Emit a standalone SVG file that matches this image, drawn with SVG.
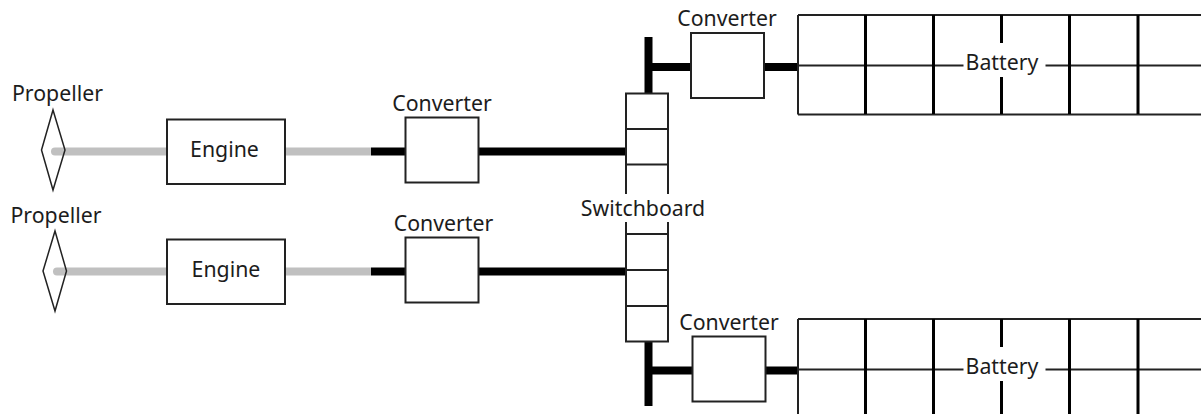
<svg xmlns="http://www.w3.org/2000/svg" width="1201" height="414" viewBox="0 0 1201 414">
<style>
text{font-family:"Noto Sans","Open Sans",sans-serif;font-size:21.300px;fill:#1c1c1c;text-anchor:middle}
.box{fill:#fff;stroke:#222;stroke-width:2}
.thin{fill:none;stroke:#222;stroke-width:1.500}
.cell{fill:none;stroke:#222;stroke-width:2}
.hv{stroke:#000;stroke-width:8;fill:none}
.shaft{stroke:#c0c0c0;stroke-width:8;fill:none}
.div{stroke:#000;stroke-width:3;fill:none}
.mask{fill:#fff}
</style>
<g id="connectors">
<path class="shaft" stroke-linecap="round" d="M55 151.500H166"/>
<path class="shaft" stroke-linecap="round" d="M57 271.500H166"/>
<path class="shaft" d="M285 151.500H371M285 271.500H371"/>
<path class="hv" d="M371 151.500H405M479 151.500H626M371 271.500H405M479 271.500H626"/>
<path class="hv" d="M648.500 37V93M649 67H691M764 67H798"/>
<path class="hv" d="M648.500 342V406M649 370.500H693M766 370.500H798"/>
</g>
<g id="propeller-1"><path class="thin" d="M53 110L65 150L53 190L41.500 150Z"/><text x="57.500" y="100.500">Propeller</text></g>
<g id="propeller-2"><path class="thin" d="M55 231L66.500 271L55 311L43 271Z"/><text x="56" y="222.500">Propeller</text></g>
<g id="engine-1"><rect class="box" x="167" y="119.500" width="118" height="64.500"/><text x="224.500" y="157">Engine</text></g>
<g id="engine-2"><rect class="box" x="167" y="239.500" width="118" height="64.500"/><text x="226" y="277">Engine</text></g>
<g id="converter-1"><rect class="box" x="405.500" y="117.500" width="73" height="65"/><text x="442" y="110.500">Converter</text></g>
<g id="converter-2"><rect class="box" x="405.500" y="237.500" width="73" height="65"/><text x="443.500" y="230.500">Converter</text></g>
<g id="converter-3"><rect class="box" x="691" y="33" width="73" height="65"/><text x="727" y="25.500">Converter</text></g>
<g id="converter-4"><rect class="box" x="692.500" y="336.500" width="73" height="65"/><text x="729" y="329.500">Converter</text></g>
<g id="switchboard">
<path class="cell" d="M626 194V93.500H668V194M626 129H668M626 164.500H668M626 222V341.500H668V222M626 234H668M626 270H668M626 306H668"/>
<text x="643" y="215.500">Switchboard</text>
</g>
<g id="battery-1">
<path class="cell" d="M798 65.500H1201M798 15H1201M798 114.500H1201M798 15V114.500"/>
<path class="div" d="M865.500 15V114M933.500 15V114M1001.500 15V114M1069.500 15V114M1138 15V114"/>
<rect class="mask" x="963.500" y="43" width="82" height="34"/>
<text x="1002" y="69.500">Battery</text>
</g>
<g id="battery-2">
<path class="cell" d="M798 369.500H1201M798 319H1201M798 319V414"/>
<path class="div" d="M865.500 319V414M933.500 319V414M1001.500 319V414M1069.500 319V414M1138 319V414"/>
<rect class="mask" x="963.500" y="347" width="82" height="34"/>
<text x="1002" y="373.500">Battery</text>
</g>
</svg>
